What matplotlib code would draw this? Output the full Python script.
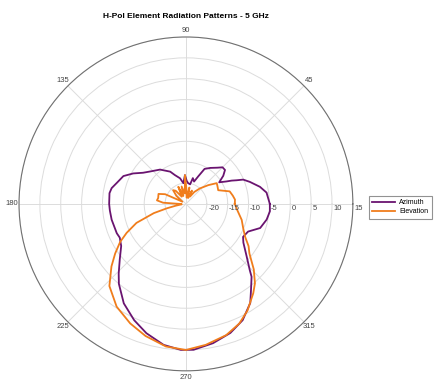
import matplotlib.pyplot as plt
import numpy as np

plt.rcParams['font.family'] = ['Liberation Sans', 'DejaVu Sans']

# angle (deg) / gain (dB)
az_deg = [0, 8, 13, 19, 23, 25, 27, 29, 33, 37, 41, 45, 49, 56, 62, 66, 70, 75, 78,
          84, 88, 92, 97, 103, 111, 116, 127, 138, 144, 150, 156, 163, 168, 172,
          180, 185, 192, 203, 207, 213, 220, 226, 230, 238, 246, 253, 261, 268,
          273, 281, 289, 296, 303, 307, 312, 314, 319, 326, 330, 336, 342, 349, 355, 360]
az_db = [-4.9, -5.5, -6.8, -8.8, -10.1, -11.6, -12.7, -13.9, -15.5, -13.8, -12.6, -12.6,
         -13.5, -14.6, -15.5, -17.8, -19.3, -18.6, -20.2, -20.0, -19.5, -18.1, -20.0,
         -18.7, -17.6, -16.4, -14.7, -13.4, -12.3, -10.4, -8.6, -7.7, -6.8, -6.5,
         -6.6, -6.7, -6.8, -7.0, -7.2, -6.5, -4.3, -1.8, 0.0, 3.1, 5.5, 7.4, 9.2, 10.0,
         10.0, 9.0, 7.7, 6.0, 3.3, 0.9, -1.5, -3.0, -5.7, -8.4, -9.2, -8.7, -6.3,
         -5.3, -4.8, -4.9]

el_deg = [0, 5, 10, 16, 23, 30, 34, 40, 48, 55, 61, 66, 70, 78, 84, 88, 92, 96, 104,
          108, 114, 120, 128, 133, 140, 148, 155, 160, 168, 173, 177, 180, 185, 190,
          193, 196, 201, 206, 210, 215, 220, 227, 236, 245, 253, 262, 270, 278, 287,
          294, 300, 307, 311, 316, 322, 326, 331, 337, 344, 353, 360]
el_db = [-13.3, -13.2, -13.6, -14.1, -16.6, -16.3, -16.1, -18.0, -20.0, -21.5, -23.0,
         -21.5, -23.5, -21.0, -23.5, -21.5, -18.1, -22.5, -20.7, -23.0, -20.5, -23.0,
         -21.0, -20.5, -22.0, -24.0, -19.5, -18.0, -18.2, -18.0, -19.5, -23.5, -24.0,
         -22.5, -20.3, -17.0, -12.3, -9.2, -6.8, -4.3, -1.7, 1.9, 4.7, 6.6, 8.1, 9.5,
         10.0, 9.1, 7.9, 6.4, 4.5, 1.8, 0.2, -2.4, -5.7, -6.9, -8.8, -10.1, -11.1,
         -12.6, -13.3]

r_ticks = [-20, -15, -10, -5, 0, 5, 10, 15]
theta_ticks = [0, 45, 90, 135, 180, 225, 270, 315]
theta_labels = ['', '45', '90', '135', '180', '225', '270', '315']

fig = plt.figure(figsize=(4.37, 3.84), dpi=100)
ax = fig.add_axes([0.0435, 0.034, 0.764, 0.87], projection='polar')

ax.plot(np.radians(az_deg), az_db, color='#6a1470', lw=1.3, label='Azimuth')
ax.plot(np.radians(el_deg), el_db, color='#f07d1c', lw=1.3, label='Elevation')

ax.set_ylim(-25, 15)
ax.set_yticks(r_ticks)
ax.set_yticklabels([])
for v in r_ticks:
    ax.annotate(str(v), xy=(0, v), xytext=(1, -0.5), textcoords='offset points',
                ha='left', va='top', fontsize=5.5, color='#444444', annotation_clip=False)
ax.set_thetagrids(theta_ticks, theta_labels, fontsize=5.5, color='#444444')
ax.tick_params(axis='x', pad=-2, length=0)
ax.tick_params(axis='y', length=0)
ax.grid(color='#dcdcdc', lw=0.7)
ax.spines['polar'].set_color('#707070')
ax.spines['polar'].set_linewidth(0.8)

fig.text(0.4256, 0.958, 'H-Pol Element Radiation Patterns - 5 GHz', fontsize=6,
         fontweight='bold', ha='center', va='center')

leg = ax.legend(loc='center left', bbox_to_anchor=(1.037, 0.49), fontsize=5,
                fancybox=False, edgecolor='#777777', handlelength=3.3, borderpad=0.5,
                labelspacing=0.3, handletextpad=0.6)
leg.get_frame().set_linewidth(0.8)

fig.savefig('out.png', dpi=100)
